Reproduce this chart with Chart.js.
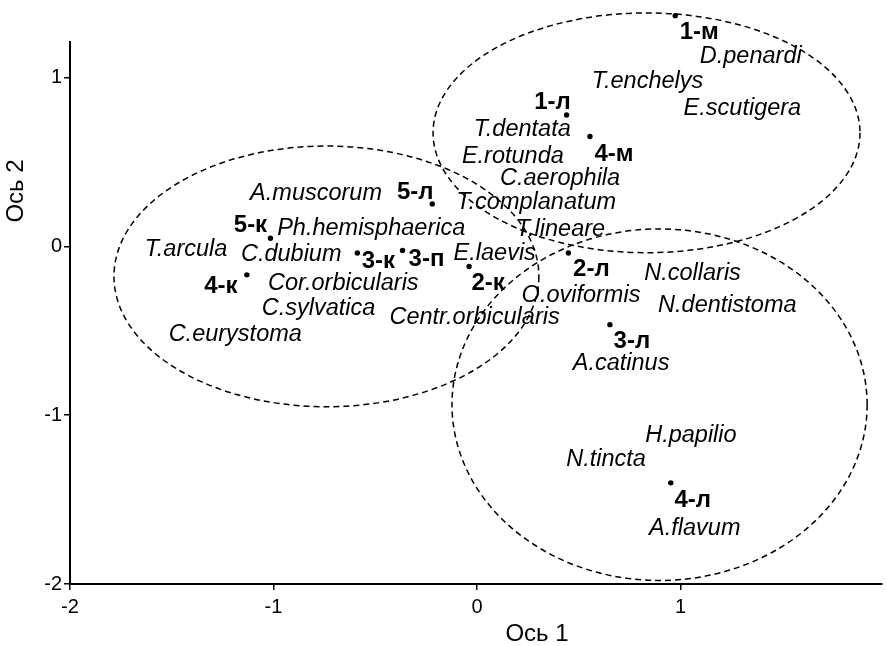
<!DOCTYPE html>
<html>
<head>
<meta charset="utf-8">
<script src="https://cdn.jsdelivr.net/npm/chart.js@4.4.0/dist/chart.umd.min.js"></script>
<style>
    html, body { margin: 0; padding: 0; background: #fff; }
    #wrap { width: 886px; height: 646px; }
</style>
</head>
<body>
<div id="wrap"><canvas id="ordChart" width="886" height="646"></canvas></div>
<script>
// site scores (dots with bold labels)
const siteNames = ["1-м", "1-л", "4-м", "5-л", "5-к", "3-к", "3-п", "4-к", "2-к", "2-л", "3-л", "4-л"];
const siteX = [0.974, 0.44, 0.555, -0.22, -1.015, -0.588, -0.366, -1.131, -0.039, 0.449, 0.653, 0.952];
const siteY = [1.366, 0.778, 0.65, 0.251, 0.048, -0.04, -0.025, -0.169, -0.12, -0.04, -0.464, -1.401];

// species scores (italic text only)
const speciesNames = ["D.penardi", "T.enchelys", "E.scutigera", "T.dentata", "E.rotunda", "C.aerophila",
    "T.complanatum", "T.lineare", "E.laevis", "N.collaris", "O.oviformis", "N.dentistoma",
    "Centr.orbicularis", "A.catinus", "H.papilio", "N.tincta", "A.flavum", "A.muscorum",
    "Ph.hemisphaerica", "T.arcula", "C.dubium", "Cor.orbicularis", "C.sylvatica", "C.eurystoma"];
const speciesX = [1.345, 0.838, 1.304, 0.222, 0.176, 0.408, 0.291, 0.41, 0.087, 1.059, 0.511, 1.23,
    -0.012, 0.708, 1.051, 0.634, 1.07, -0.791, -0.52, -1.43, -0.913, -0.657, -0.779, -1.188];
const speciesY = [1.123, 0.979, 0.818, 0.693, 0.531, 0.403, 0.259, 0.102, -0.044, -0.159, -0.293, -0.352,
    -0.423, -0.691, -1.121, -1.263, -1.673, 0.315, 0.108, -0.017, -0.05, -0.218, -0.366, -0.524];

// group ellipses (centre and semi-axes, axis units)
const ellipseCx = [0.833, -0.74, 0.897];
const ellipseCy = [0.672, -0.178, -0.938];
const ellipseRx = [1.049, 1.044, 1.02];
const ellipseRy = [0.71, 0.772, 1.041];

const xTicks = [-2, -1, 0, 1];
const yTicks = [-2, -1, 0, 1];

// label offsets in px relative to the dot
const siteLabelOffset = [[24, 17], [-14, -13], [24, 18], [-17, -12], [-20, -13], [21, 8],
    [24, 9], [-26, 12], [19, 17], [23, 16], [22, 17], [22, 18]];

const FONT = "'Liberation Sans', Arial, sans-serif";

const annotate = {
    id: "annotate",
    afterDatasetsDraw(chart) {
        const ctx = chart.ctx;
        const xs = chart.scales.x;
        const ys = chart.scales.y;
        const area = chart.chartArea;
        ctx.save();

        // ellipses
        ctx.strokeStyle = "#000";
        ctx.lineWidth = 1.5;
        ctx.setLineDash([6, 4]);
        for (let i = 0; i < ellipseCx.length; i++) {
            const cx = xs.getPixelForValue(ellipseCx[i]);
            const cy = ys.getPixelForValue(ellipseCy[i]);
            const rx = Math.abs(xs.getPixelForValue(ellipseCx[i] + ellipseRx[i]) - cx);
            const ry = Math.abs(ys.getPixelForValue(ellipseCy[i] + ellipseRy[i]) - cy);
            ctx.beginPath();
            ctx.ellipse(cx, cy, rx, ry, 0, 0, Math.PI * 2);
            ctx.stroke();
        }
        ctx.setLineDash([]);

        ctx.fillStyle = "#000";

        // dots that fall above the axis top are not drawn by chart.js
        siteX.forEach((x, i) => {
            const px = xs.getPixelForValue(x);
            const py = ys.getPixelForValue(siteY[i]);
            if (py < area.top || py > area.bottom) {
                ctx.beginPath();
                ctx.arc(px, py, 2.7, 0, Math.PI * 2);
                ctx.fill();
            }
        });

        ctx.textAlign = "center";
        ctx.textBaseline = "middle";

        // species names
        ctx.font = "italic 23.5px " + FONT;
        speciesNames.forEach((name, i) => {
            ctx.fillText(name, xs.getPixelForValue(speciesX[i]), ys.getPixelForValue(speciesY[i]));
        });

        // site labels
        ctx.font = "bold 24px " + FONT;
        siteNames.forEach((name, i) => {
            const px = xs.getPixelForValue(siteX[i]) + siteLabelOffset[i][0];
            const py = ys.getPixelForValue(siteY[i]) + siteLabelOffset[i][1];
            ctx.fillText(name, px, py);
        });

        // axis titles
        ctx.font = "24px " + FONT;
        ctx.fillText("Ось 1", 537, 634);
        ctx.translate(16, 191);
        ctx.rotate(-Math.PI / 2);
        ctx.fillText("Ось 2", 0, 0);
        ctx.restore();
    }
};

const chart = new Chart(document.getElementById("ordChart"), {
    type: "scatter",
    data: {
        datasets: [{
            label: "sites",
            data: siteX.map((x, i) => ({ x: x, y: siteY[i] })),
            backgroundColor: "#000",
            borderColor: "#000",
            pointRadius: 2.7,
            pointBorderWidth: 0,
            clip: false,
        }, {
            label: "species",
            data: speciesX.map((x, i) => ({ x: x, y: speciesY[i] })),
            pointRadius: 0,
            clip: false,
        }],
    },
    options: {
        responsive: false,
        animation: false,
        devicePixelRatio: 1,
        layout: { padding: { top: 42, right: 0, left: 0, bottom: 0 } },
        plugins: {
            legend: { display: false },
            tooltip: { enabled: false },
        },
        scales: {
            x: {
                type: "linear",
                min: -2,
                max: 1.99,
                afterBuildTicks: s => { s.ticks = xTicks.map(v => ({ value: v })); },
                afterFit: s => { s.height = 62; },
                grid: { drawOnChartArea: false, drawTicks: true, tickLength: 6, color: "#000", lineWidth: 1.5 },
                border: { color: "#000", width: 2 },
                ticks: { color: "#000", font: { family: FONT, size: 20 }, padding: 5, maxRotation: 0 },
            },
            y: {
                type: "linear",
                min: -2,
                max: 1.21,
                afterBuildTicks: s => { s.ticks = yTicks.map(v => ({ value: v })); },
                afterFit: s => { s.width = 70; },
                grid: { drawOnChartArea: false, drawTicks: true, tickLength: 6, color: "#000", lineWidth: 1.5 },
                border: { color: "#000", width: 2 },
                ticks: { color: "#000", font: { family: FONT, size: 20 }, padding: 2 },
            },
        },
    },
    plugins: [annotate],
});
</script>
</body>
</html>
